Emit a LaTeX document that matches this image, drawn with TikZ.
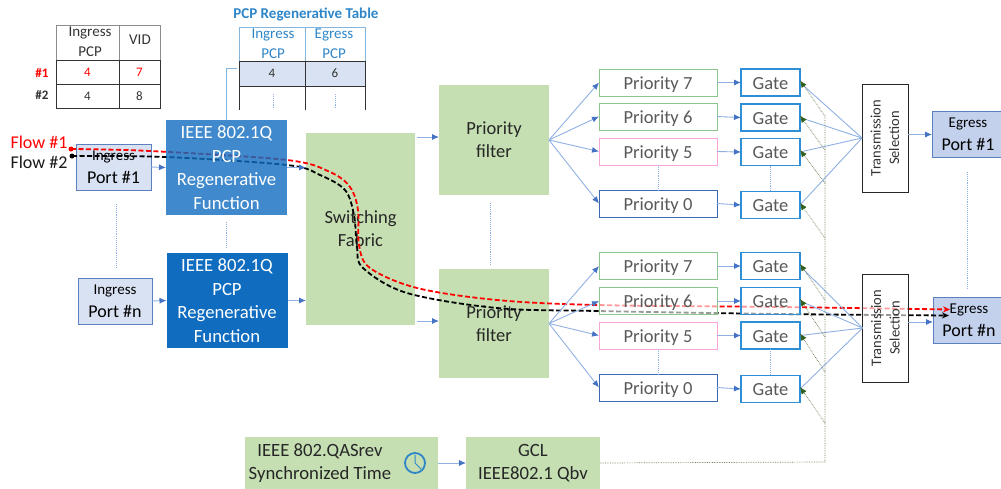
\documentclass[tikz,border=0pt]{standalone}
\usepackage{fontspec}
\setmainfont{Carlito}
\usetikzlibrary{arrows.meta}
\definecolor{linkblue}{HTML}{8FB0E3}
\definecolor{headblue}{HTML}{4472C4}
\definecolor{boxgreen}{HTML}{C5DFB3}
\definecolor{portfill}{HTML}{D9E2F3}
\definecolor{portline}{HTML}{5B7FBF}
\definecolor{gateline}{HTML}{2E8FD6}
\definecolor{tabblue}{HTML}{2E86C8}
\definecolor{ieeedark}{HTML}{0F6CBF}
\definecolor{dotolive}{HTML}{66784F}
\definecolor{headgreen}{HTML}{2F5F1A}
\def\fsbig{\fontsize{18.5}{23}\selectfont}
\def\fsport{\fontsize{18}{23}\selectfont}
\def\fssmall{\fontsize{15}{20}\selectfont}
\def\fscell{\fontsize{13}{15}\selectfont}
\tikzset{
	every node/.style={inner sep=0pt, outer sep=0pt},
	link/.style={draw=linkblue, line width=0.9pt, -{Latex[color=headblue,length=7pt,width=6pt]}},
	vdots/.style={draw=linkblue, line width=0.9pt, densely dotted},
	gclline/.style={draw=dotolive, line width=0.7pt, densely dotted},
	gcltip/.style={gclline, -{Latex[color=headgreen,length=7pt,width=6pt]}},
	flowred/.style={draw=red, line width=1.8pt, dash pattern=on 5pt off 2.5pt, -{Stealth[length=7pt,width=6pt]}},
	flowblack/.style={draw=black, line width=1.8pt, dash pattern=on 5pt off 2.5pt, -{Stealth[length=7pt,width=6pt]}},
	flowdot/.style={circle, minimum size=5pt},
	portbox/.style={draw=portline, line width=1pt, fill=portfill, align=center, minimum height=46pt, font=\fsport},
	ieeebox/.style={fill=ieeedark, text=white, align=center, minimum width=121pt, minimum height=95pt, font=\fontsize{18.7}{23.5}\selectfont},
	greenbox/.style={fill=boxgreen, align=center, font=\fsbig, text=black!85},
	priobox/.style={draw=#1, line width=1pt, fill=white, text=black!65, minimum width=118pt, minimum height=27pt, text height=14pt, text depth=1pt, font=\fsbig},
	gatebox/.style={draw=gateline, line width=1.1pt, fill=white, text=black!65, minimum width=59pt, minimum height=27pt, text height=14pt, text depth=1pt, font=\fsbig},
	tsbox/.style={draw=black!85, line width=1pt, fill=white, minimum width=46pt, minimum height=108pt},
	tstext/.style={rotate=90, align=center, text=black!80, font=\fontsize{14.5}{18.5}\selectfont},
	cell/.style={draw=black!80, line width=1pt, font=\fscell, text=black!80, anchor=north west},
	headcell/.style={font=\fssmall, align=center},
}

\begin{document}
\begin{tikzpicture}[x=1pt, y=-1pt]
	\useasboundingbox (0, 0) rectangle (1001, 488);

	%%%%% tables %%%%%
	\node[headcell, text=black!80] (vidhead) at (90, 42) {Ingress\\PCP};
	\node[headcell, text=black!80] (vidname) at (140, 40) {VID};
	\draw[black!45, line width=1pt] (56, 60) -- (56, 25) -- (160, 25) -- (160, 60);
	\draw[black!45, line width=1pt] (119, 25) -- (119, 60);
	\node[cell, minimum width=63pt, minimum height=24pt, text=red] (vida) at (56, 60) {4};
	\node[cell, minimum width=41pt, minimum height=24pt, text=red] (vidb) at (119, 60) {7};
	\node[cell, minimum width=63pt, minimum height=24pt] (vidc) at (56, 84) {4};
	\node[cell, minimum width=41pt, minimum height=24pt] (vidd) at (119, 84) {8};
	\node[text=red, font=\fscell\bfseries] (rowa) at (42, 73) {\#1};
	\node[text=black!80, font=\fscell\bfseries] (rowb) at (42, 95) {\#2};

	\node[text=tabblue, font=\fontsize{15}{17}\selectfont\bfseries] (regtitle) at (306, 14) {PCP Regenerative Table};
	\draw[tabblue!60, line width=1pt] (239, 61) -- (239, 27) -- (365, 27) -- (365, 61);
	\draw[tabblue!60, line width=1pt] (305, 27) -- (305, 61);
	\node[headcell, text=tabblue] (reghead) at (273, 44) {\fontsize{15}{18}\selectfont Ingress\\PCP};
	\node[headcell, text=tabblue] (regegr) at (334, 44) {\fontsize{15}{18}\selectfont Egress\\PCP};
	\node[cell, fill=portfill, minimum width=66pt, minimum height=25pt] (rega) at (239, 61) {4};
	\node[cell, fill=portfill, minimum width=60pt, minimum height=25pt] (regb) at (305, 61) {6};
	\draw[black!80, line width=1pt] (239, 86) -- (239, 110) (305, 86) -- (305, 110) (365, 86) -- (365, 110);
	\draw[vdots] (273, 94) -- (273, 108);
	\draw[vdots] (335, 94) -- (335, 108);

	%%%%% boxes below the flows %%%%%
	\node[portbox, minimum width=75pt] (porta) at (113.5, 167) {\fssmall Ingress\\\fsport Port \#1};
	\node[portbox, minimum width=74pt] (portn) at (115, 301) {\fssmall Ingress\\\fsport Port \#n};
	\node[ieeebox] (ieeeb) at (227, 300.5) {IEEE 802.1Q\\PCP\\Regenerative\\Function};
	\node[greenbox, minimum width=109pt, minimum height=192pt] (fabric) at (360.5, 229) {Switching\\Fabric};
	\node[greenbox, minimum width=110pt, minimum height=110pt] (filtera) at (494, 140) {Priority\\filter};
	\node[greenbox, minimum width=110pt, minimum height=109pt] (filterb) at (494, 323.5) {Priority\\filter};
	\node[portbox, minimum width=72pt, fill=portfill!85!headblue] (egressa) at (968, 134.5) {\fssmall Egress\\\fsport Port \#1};
	\node[portbox, minimum width=72pt, fill=portfill!85!headblue] (egressn) at (969, 320.5) {\fssmall Egress\\\fsport Port \#n};

	%%%%% flows %%%%%
	\node[flowdot, fill=red] (starta) at (71, 149) {};
	\node[flowdot, fill=black] (startb) at (72, 156) {};
	\coordinate (enda) at (950, 309.5);
	\coordinate (endb) at (949, 315.5);
	\draw[flowred] plot[smooth, tension=0.55] coordinates {(starta) (150, 151) (287, 160) (330, 172) (350, 187) (358, 210) (359, 245) (370, 268) (417, 288) (497, 300) (597, 305) (780, 307) (enda)};
	\draw[flowblack] plot[smooth, tension=0.55] coordinates {(startb) (166, 157) (287, 165) (320, 175) (345, 190) (354, 215) (357, 247) (363, 268) (407, 293) (497, 308) (597, 311) (780, 314) (endb)};

	%%%%% boxes above the flows %%%%%
	\node[ieeebox, fill opacity=0.8, text opacity=1] (ieeea) at (226.5, 167.5) {IEEE 802.1Q\\PCP\\Regenerative\\Function};

	\node[priobox=green!50!black!45] (prioa) at (658, 82.5) {Priority 7};
	\node[priobox=green!50!black!45] (priob) at (658, 116.5) {Priority 6};
	\node[priobox=magenta!35] (prioc) at (658, 151.5) {Priority 5};
	\node[priobox=headblue!90!black] (priod) at (658, 203.5) {Priority 0};
	\node[gatebox] (gatea) at (770.5, 82.5) {Gate};
	\node[gatebox] (gateb) at (770.5, 117.5) {Gate};
	\node[gatebox] (gatec) at (770.5, 152) {Gate};
	\node[gatebox] (gated) at (770.5, 205) {Gate};
	\node[tsbox] (tsa) at (885, 138) {};
	\node[tstext] (tsatext) at (tsa) {Transmission\\Selection};

	\node[priobox=green!50!black!45] (prioe) at (658, 266) {Priority 7};
	\node[priobox=green!50!black!45, fill opacity=0.6, text opacity=1] (priof) at (658, 301) {Priority 6};
	\node[priobox=magenta!35] (priog) at (658, 335.5) {Priority 5};
	\node[priobox=headblue!90!black] (prioh) at (658, 387.5) {Priority 0};
	\node[gatebox] (gatee) at (770.5, 266) {Gate};
	\node[gatebox, fill opacity=0.6, text opacity=1] (gatef) at (770.5, 301) {Gate};
	\node[gatebox] (gateg) at (770.5, 335.5) {Gate};
	\node[gatebox] (gateh) at (770.5, 389) {Gate};
	\node[tsbox, fill opacity=0.6, text opacity=1] (tsb) at (885.5, 328) {};
	\node[tstext] (tsbtext) at (tsb) {Transmission\\Selection};

	\node[greenbox, minimum width=193pt, minimum height=52pt] (timebox) at (341.5, 463) {};
	\node[align=center, text=black!85, font=\fontsize{18.7}{23}\selectfont] (timetext) at (320, 463) {IEEE 802.QASrev\\Synchronized Time};
	\node[draw=tabblue, line width=1.8pt, circle, minimum size=20pt] (clock) at (415, 463) {};
	\draw[tabblue, line width=1pt] (415, 455) -- (clock.center) -- (421, 469);
	\node[greenbox, minimum width=134pt, minimum height=52pt, font=\fontsize{18.7}{23}\selectfont] (gcl) at (533, 463) {GCL\\IEEE802.1 Qbv};

	%%%%% connectors %%%%%
	\coordinate (fabtapa) at (417, 137);
	\coordinate (fabtapb) at (417, 321);
	\coordinate (egrtap) at (908, 322);
	\draw[link] (porta.east) -- (ieeea.west);
	\draw[link] (portn.east) -- (ieeeb.west);
	\draw[link] (ieeea.east) -- (fabric.west |- ieeea.east);
	\draw[link] (ieeeb.east) -- (fabric.west |- ieeeb.east);
	\draw[link] (fabtapa) -- (filtera.west |- fabtapa);
	\draw[link] (fabtapb) -- (filterb.west |- fabtapb);
	\draw[link] (timebox.east) -- (gcl.west);
	\draw[tabblue!60, line width=1pt] (ieeea.north) |- (237, 68);

	\foreach \prio/\gate in {prioa/gatea, priob/gateb, prioc/gatec, priod/gated} {
		\draw[link] (filtera.east) -- (\prio.west);
		\draw[link] (\prio.east) -- (\gate.west);
		\draw[draw=linkblue, line width=0.9pt] (\gate.east) -- (tsa.west);
	}
	\foreach \prio/\gate in {prioe/gatee, priof/gatef, priog/gateg, prioh/gateh} {
		\draw[link] (filterb.east) -- (\prio.west);
		\draw[link] (\prio.east) -- (\gate.west);
		\draw[draw=linkblue, line width=0.9pt] (\gate.east) -- (tsb.west);
	}
	\draw[link] (tsa.east |- egressa.west) -- (egressa.west);
	\draw[link] (egrtap) -- (egressn.west |- egrtap);

	\draw[vdots] (116, 204) -- (116, 268);
	\draw[vdots] (226.5, 222) -- (226.5, 247);
	\draw[vdots] (490, 203) -- (490, 265);
	\draw[vdots] (967, 172) -- (967, 288);
	\draw[vdots] (prioc.south) -- (priod.north);
	\draw[vdots] (gatec.south) -- (gated.north);
	\draw[vdots] (priog.south) -- (prioh.north);
	\draw[vdots] (gateg.south) -- (gateh.north);

	%%%%% gate control %%%%%
	\coordinate (gclturn) at (825, 462);
	\coordinate (gcltop) at (825, 116);
	\draw[gclline] (gcl.east) -- (gclturn) -- (gcltop);
	\foreach \gate/\ya in {gatea/116, gateb/150, gatec/183, gated/238, gatee/300, gatef/337, gateg/372, gateh/423} {
		\draw[gcltip] (825, \ya) -- ([yshift=2pt]\gate.east);
	}

	%%%%% flow names %%%%%
	\node[text=red, font=\fontsize{18}{20}\selectfont] (flowa) at (39, 142) {Flow \#1};
	\node[text=black!90, font=\fontsize{18}{20}\selectfont] (flowb) at (39, 162) {Flow \#2};
\end{tikzpicture}
\end{document}
